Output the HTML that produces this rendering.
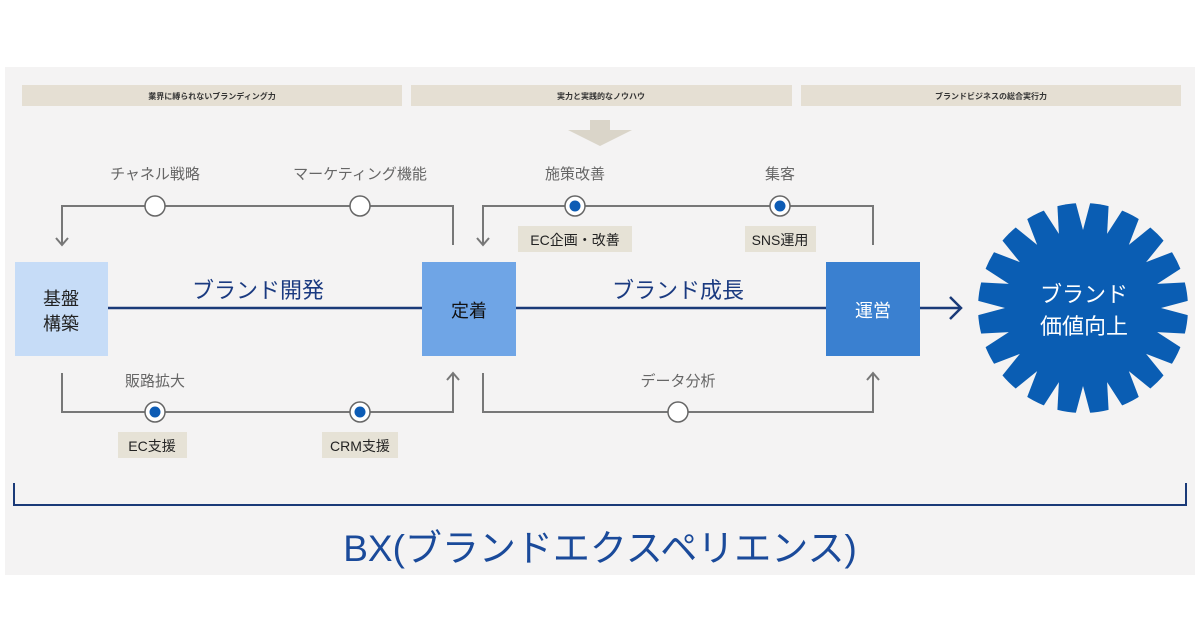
<!DOCTYPE html>
<html><head><meta charset="utf-8"><style>
html,body{margin:0;padding:0;background:#fff;}
svg{display:block;font-family:"Liberation Sans","Noto Sans CJK JP",sans-serif;}
</style></head><body>
<svg width="1200" height="630" viewBox="0 0 1200 630" xmlns="http://www.w3.org/2000/svg">
<defs><polygon id="n" points="1083,230 1075,200 1091,200" fill="#f4f3f3"/></defs>
<rect x="5" y="67" width="1190" height="508" fill="#f4f3f3"/>
<g fill="#e5dfd3">
<rect x="22" y="85" width="380" height="21"/>
<rect x="411" y="85" width="381" height="21"/>
<rect x="801" y="85" width="380" height="21"/>
</g>
<g font-size="8" fill="#333" text-anchor="middle" font-weight="bold">
<text x="212" y="99">業界に縛られないブランディング力</text>
<text x="601" y="99">実力と実践的なノウハウ</text>
<text x="991" y="99">ブランドビジネスの総合実行力</text>
</g>
<path d="M590 120H610V130H632L600 146L568 130H590Z" fill="#dad5c9"/>
<g font-size="15" fill="#666" text-anchor="middle">
<text x="155" y="179">チャネル戦略</text>
<text x="360" y="179">マーケティング機能</text>
<text x="575" y="179">施策改善</text>
<text x="780" y="179">集客</text>
<text x="155" y="386">販路拡大</text>
<text x="678" y="386">データ分析</text>
</g>
<g fill="none" stroke="#777" stroke-width="2">
<path d="M62 245V206H453V245"/>
<path d="M483 245V206H873V245"/>
<path d="M62 373V412H453V373"/>
<path d="M483 373V412H873V373"/>
<path d="M56 238L62 245L68 238"/>
<path d="M477 238L483 245L489 238"/>
<path d="M447 380L453 373L459 380"/>
<path d="M867 380L873 373L879 380"/>
</g>
<g stroke="#666" stroke-width="1.5" fill="#fff">
<circle cx="155" cy="206" r="10"/><circle cx="360" cy="206" r="10"/>
<circle cx="575" cy="206" r="10"/><circle cx="780" cy="206" r="10"/>
<circle cx="155" cy="412" r="10"/><circle cx="360" cy="412" r="10"/>
<circle cx="678" cy="412" r="10"/>
</g>
<g fill="#0d5cb5">
<circle cx="575" cy="206" r="5.5"/><circle cx="780" cy="206" r="5.5"/>
<circle cx="155" cy="412" r="5.5"/><circle cx="360" cy="412" r="5.5"/>
</g>
<g fill="#e6e2d6">
<rect x="518" y="226" width="114" height="26"/>
<rect x="745" y="226" width="71" height="26"/>
<rect x="118" y="432" width="69" height="26"/>
<rect x="322" y="432" width="76" height="26"/>
</g>
<g font-size="14" fill="#222" text-anchor="middle">
<text x="575" y="245">EC企画・改善</text>
<text x="780" y="245">SNS運用</text>
<text x="152" y="451">EC支援</text>
<text x="360" y="451">CRM支援</text>
</g>
<g stroke="#1a3a78" stroke-width="2.5" fill="none">
<path d="M108 308H422M516 308H826M920 308H960"/>
<path d="M950 297L961 308L950 319"/>
</g>
<rect x="15" y="262" width="93" height="94" fill="#c6dcf7"/>
<rect x="422" y="262" width="94" height="94" fill="#6fa5e6"/>
<rect x="826" y="262" width="94" height="94" fill="#3a80d0"/>
<g font-size="18" text-anchor="middle">
<text x="61" y="305" fill="#222">基盤</text>
<text x="61" y="330" fill="#222">構築</text>
<text x="469" y="317" fill="#111">定着</text>
<text x="873" y="317" fill="#fff">運営</text>
</g>
<g font-size="22" fill="#1a3a80" text-anchor="middle">
<text x="258" y="298">ブランド開発</text>
<text x="678" y="298">ブランド成長</text>
</g>
<circle cx="1083" cy="308" r="105" fill="#0a5db3"/>
<use href="#n"/>
<use href="#n" transform="rotate(18 1083 308)"/>
<use href="#n" transform="rotate(36 1083 308)"/>
<use href="#n" transform="rotate(54 1083 308)"/>
<use href="#n" transform="rotate(72 1083 308)"/>
<use href="#n" transform="rotate(90 1083 308)"/>
<use href="#n" transform="rotate(108 1083 308)"/>
<use href="#n" transform="rotate(126 1083 308)"/>
<use href="#n" transform="rotate(144 1083 308)"/>
<use href="#n" transform="rotate(162 1083 308)"/>
<use href="#n" transform="rotate(180 1083 308)"/>
<use href="#n" transform="rotate(198 1083 308)"/>
<use href="#n" transform="rotate(216 1083 308)"/>
<use href="#n" transform="rotate(234 1083 308)"/>
<use href="#n" transform="rotate(252 1083 308)"/>
<use href="#n" transform="rotate(270 1083 308)"/>
<use href="#n" transform="rotate(288 1083 308)"/>
<use href="#n" transform="rotate(306 1083 308)"/>
<use href="#n" transform="rotate(324 1083 308)"/>
<use href="#n" transform="rotate(342 1083 308)"/>
<g font-size="22" fill="#fff" text-anchor="middle">
<text x="1084" y="302">ブランド</text>
<text x="1084" y="334">価値向上</text>
</g>
<path d="M14 483V505H1186V483" fill="none" stroke="#1a3a78" stroke-width="2"/>
<text x="600" y="561" font-size="37" fill="#1a4a9a" text-anchor="middle">BX(ブランドエクスペリエンス)</text>
</svg>
</body></html>
